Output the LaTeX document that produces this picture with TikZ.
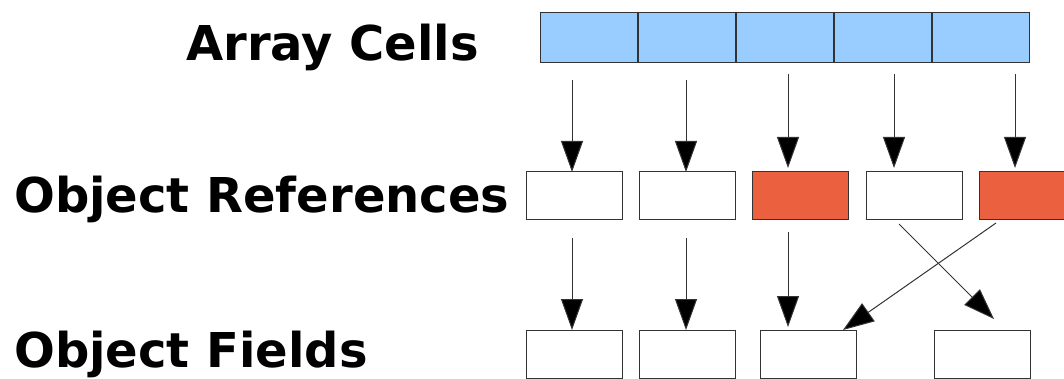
\documentclass[tikz,border=0pt]{standalone}
\usepackage{fontspec}
\setmainfont{DejaVu Sans}
\usetikzlibrary{arrows.meta}
\definecolor{cellblue}{HTML}{99CCFF}
\definecolor{refred}{HTML}{EB6140}
\definecolor{edge}{HTML}{333333}
\begin{document}
\begin{tikzpicture}[x=1pt,y=-1pt,
  cellbox/.style={draw=edge,line width=1pt,fill=cellblue,minimum width=97pt,minimum height=50pt,inner sep=0pt,outer sep=0pt},
  refbox/.style={draw=edge,line width=1pt,fill=white,minimum width=96pt,minimum height=48pt,inner sep=0pt,outer sep=0pt},
  hotbox/.style={refbox,fill=refred},
  lbl/.style={anchor=base west,inner sep=0pt,font=\fontsize{48}{48}\selectfont\bfseries},
  arr/.style={draw=edge,line width=1pt,-{Triangle[length=31pt,width=22pt,fill=black]}}]
\useasboundingbox (0,0) rectangle (1064,379);
% labels
\node[lbl] (tcells) at (186,61) {Array Cells};
\node[lbl] (trefs) at (14,212) {Object References};
\node[lbl] (tfields) at (14,367) {Object Fields};
% array cells
\node[cellbox] (c1) at (588.5,38) {};
\node[cellbox] (c2) at (686.5,38) {};
\node[cellbox] (c3) at (784.5,38) {};
\node[cellbox] (c4) at (882.5,38) {};
\node[cellbox] (c5) at (980.5,38) {};
% references
\node[refbox] (r1) at (574,196) {};
\node[refbox] (r2) at (687.5,196) {};
\node[hotbox] (r3) at (800.5,196) {};
\node[refbox] (r4) at (914,196) {};
\node[hotbox] (r5) at (1027,196) {};
% fields
\node[refbox] (f1) at (574,354) {};
\node[refbox] (f2) at (687.5,354) {};
\node[refbox] (f3) at (808,354) {};
\node[refbox] (f4) at (982.5,354) {};
% arrow start points
\coordinate (a1) at (572,80);
\coordinate (a2) at (686,80);
\coordinate (a3) at (788,74);
\coordinate (a4) at (894,74);
\coordinate (a5) at (1015,74);
\coordinate (b1) at (572,238);
\coordinate (b2) at (686,238);
\coordinate (b3) at (788,232);
\coordinate (b4) at (899,224);
\coordinate (b5) at (996,223);
\coordinate (e4) at (994,319);
\coordinate (e5) at (843,330);
% cells -> references
\draw[arr] (a1) -- (a1 |- r1.north);
\draw[arr] (a2) -- (a2 |- r2.north);
\draw[arr,shorten >=4pt] (a3) -- (a3 |- r3.north);
\draw[arr,shorten >=4pt] (a4) -- (a4 |- r4.north);
\draw[arr,shorten >=4pt] (a5) -- (a5 |- r5.north);
% references -> fields
\draw[arr] (b1) -- (b1 |- f1.north);
\draw[arr] (b2) -- (b2 |- f2.north);
\draw[arr,shorten >=3pt] (b3) -- (b3 |- f3.north);
\draw[arr] (b4) -- (e4);
\draw[arr] (b5) -- (e5);
\end{tikzpicture}
\end{document}
